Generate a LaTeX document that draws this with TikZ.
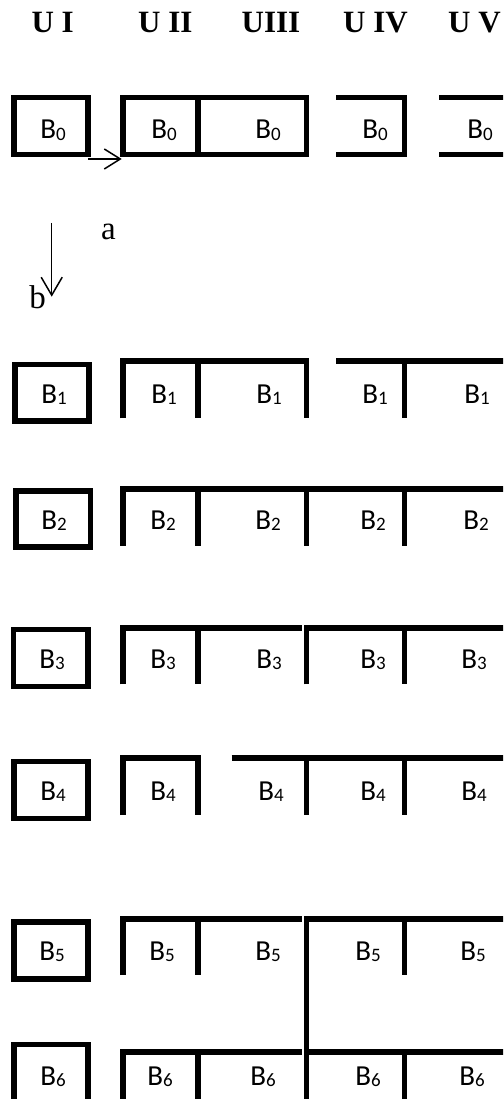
\documentclass[tikz,border=0pt]{standalone}
\usepackage{fontspec}
\usetikzlibrary{arrows.meta}
\newfontfamily\titlefont{Liberation Serif}
\newfontfamily\calfont{Carlito}
\newcommand{\blab}[1]{{\calfont\fontsize{29}{29}\selectfont B\raisebox{-1.5pt}{\fontsize{19}{19}\selectfont #1}}}
\tikzset{
  wall/.style={line width=5.5pt, line join=miter, line cap=butt},
  thinarrow/.style={line width=1.5pt, -{Straight Barb[length=16pt,width=20pt]}},
  blabel/.style={anchor=base, inner sep=0pt},
  ttl/.style={anchor=base west, inner sep=0pt, font=\titlefont\bfseries\fontsize{31}{31}\selectfont},
  lbl/.style={anchor=base, inner sep=0pt, font=\titlefont\fontsize{33}{33}\selectfont},
}
\begin{document}
\begin{tikzpicture}[x=1pt,y=-1pt]
\useasboundingbox (0,0) rectangle (503,1099);
\clip (0,0) rectangle (503,1099);
\fill[white] (0,0) rectangle (503,1099);
% titles
\node[ttl] (t1) at (31.3,33) {U I};
\node[ttl] (t2) at (138,33) {U II};
\node[ttl] (t3) at (241.5,33) {UIII};
\node[ttl] (t4) at (343,33) {U IV};
\node[ttl] (t5) at (448,33) {U V};
% row 0
\draw[wall] (14.2,97.4) rectangle (87.9,154.5);
\draw[wall] (123.2,97.4) rectangle (306.7,154.5);
\draw[wall] (197.8,97.4) -- (197.8,154.5);
\draw[wall] (336,97.4) -- (404.5,97.4) -- (404.5,154.5) -- (336,154.5);
\draw[wall] (439,97.4) -- (510,97.4);
\draw[wall] (439,154.5) -- (510,154.5);
% arrows a, b
\coordinate (h0) at (88.3,159);
\coordinate (h1) at (121.7,159);
\draw[thinarrow] (h0) -- (h1);
\coordinate (v0) at (51.7,223);
\coordinate (v1) at (51.7,296.7);
\draw[line width=1.5pt, -{Straight Barb[length=18pt,width=21pt]}] (v0) -- (v1);
\node[lbl] (la) at (108.5,239.3) {a};
\node[lbl] (lb) at (37.5,308.3) {b};
% row 1
\draw[wall] (15.2,364.5) rectangle (88.8,420.8);
\draw[wall] (123,418.3) -- (123,361.2) -- (306.7,361.2) -- (306.7,418.3);
\draw[wall] (197.8,361.2) -- (197.8,418.3);
\draw[wall] (336,361.2) -- (510,361.2);
\draw[wall] (404.5,361.2) -- (404.5,418.3);
% row 2
\draw[wall] (15.8,491.2) rectangle (90.5,547.2);
\draw[wall] (123,545.7) -- (123,488.8) -- (510,488.8);
\foreach \x in {197.8,306.7,404.5} \draw[wall] (\x,488.8) -- (\x,545.7);
% row 3
\draw[wall] (13.3,629.5) rectangle (87.8,686.3);
\draw[wall] (123,684.3) -- (123,627.8) -- (302,627.8);
\draw[wall] (197.8,627.8) -- (197.8,684.3);
\draw[wall] (306.7,684.3) -- (306.7,627.8) -- (510,627.8);
\draw[wall] (404.5,627.8) -- (404.5,684.3);
% row 4
\draw[wall] (14.2,761.7) rectangle (87.8,818.5);
\draw[wall] (123,815) -- (123,757.8) -- (197.8,757.8) -- (197.8,815);
\draw[wall] (231.7,757.8) -- (510,757.8);
\draw[wall] (306.7,757.8) -- (306.7,815);
\draw[wall] (404.5,757.8) -- (404.5,815);
% row 5
\draw[wall] (14.2,922.2) rectangle (87.8,978.8);
\draw[wall] (123,975) -- (123,919) -- (302,919);
\draw[wall] (197.8,919) -- (197.8,975);
\draw[wall] (306.7,1110) -- (306.7,919) -- (510,919);
\draw[wall] (404.5,919) -- (404.5,975);
% row 6
\draw[wall] (14.2,1110) -- (14.2,1044.5) -- (87.8,1044.5) -- (87.8,1110);
\draw[wall] (123,1110) -- (123,1052.2) -- (302,1052.2);
\draw[wall] (197.8,1052.2) -- (197.8,1110);
\draw[wall] (306.7,1052.2) -- (510,1052.2);
\draw[wall] (404.5,1052.2) -- (404.5,1110);
% labels
\foreach \r/\y/\xa/\xb/\xc/\xd/\xe in {
  0/138.7/53/164/268/375/480,
  1/403.3/54/164/269/375/477,
  2/529.3/54/163/268/373/476,
  3/668.3/52/163/269/373/474,
  4/800/53/163/271/373/474,
  5/960/52/162/268/368/473,
  6/1085/53/160/263/368/472} {
  \node[blabel] (b\r a) at (\xa,\y) {\blab{\r}};
  \node[blabel] (b\r b) at (\xb,\y) {\blab{\r}};
  \node[blabel] (b\r c) at (\xc,\y) {\blab{\r}};
  \node[blabel] (b\r d) at (\xd,\y) {\blab{\r}};
  \node[blabel] (b\r e) at (\xe,\y) {\blab{\r}};
}
\end{tikzpicture}
\end{document}
